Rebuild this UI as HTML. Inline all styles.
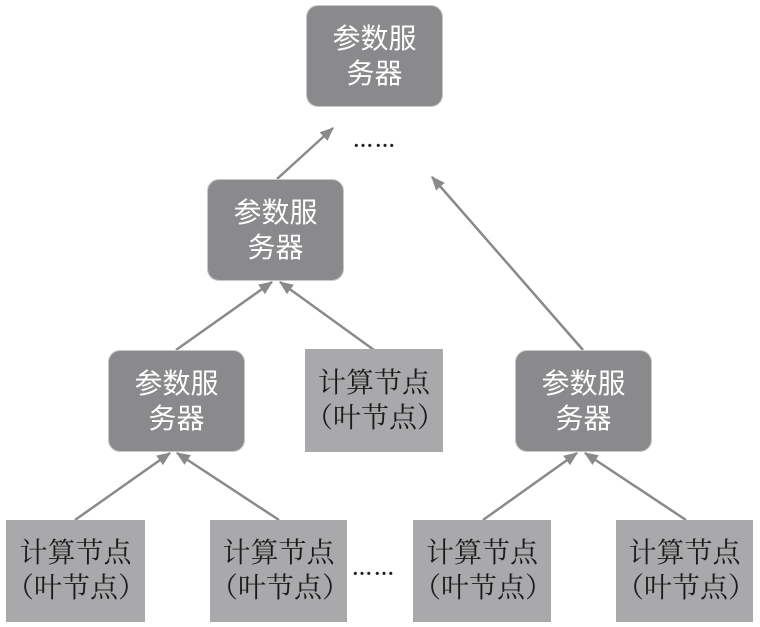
<!DOCTYPE html>
<html><head><meta charset="utf-8"><style>
body{margin:0;width:760px;height:627px;background:#fff;position:relative;overflow:hidden;font-family:"Liberation Serif","Noto Serif CJK SC","Noto Sans CJK SC",serif}
.b{position:absolute;display:flex;align-items:center;justify-content:center;text-align:center;font-size:28px;line-height:35px}
.ps{background:#8a8a8d;color:#fff;border-radius:12px;border:1px solid #c8c8ca;box-sizing:border-box;font-family:"Liberation Sans","Noto Sans CJK SC",sans-serif}
.lf{background:#a9a9ac;color:#1a1a1a;box-sizing:border-box}
.d{position:absolute;font-size:20px;color:#222;letter-spacing:2px;font-weight:bold}
</style></head><body>
<svg width="760" height="627" style="position:absolute;left:0;top:0">
<defs>
<marker id="h" viewBox="0 0 12 10" markerWidth="14" markerHeight="12" refX="11" refY="5" orient="auto" markerUnits="userSpaceOnUse"><path d="M0,0 L12,5 L0,10 Z" fill="#8a8a8d"/></marker></defs>
<g stroke="#8a8a8d" stroke-width="2.5" fill="none" marker-end="url(#h)">
<line x1="277" y1="179" x2="333" y2="128"/>
<line x1="583" y1="350" x2="432" y2="177"/>
<line x1="176" y1="350" x2="272" y2="282"/>
<line x1="374" y1="350" x2="280" y2="282"/>
<line x1="75" y1="520" x2="170" y2="453"/>
<line x1="279" y1="520" x2="177" y2="453"/>
<line x1="483" y1="520" x2="577" y2="453"/>
<line x1="686" y1="520" x2="585" y2="453"/>
</g></svg>
<div class="b ps" style="left:306px;top:5px;width:137px;height:102px">参数服<br>务器</div>
<div class="b ps" style="left:207px;top:179px;width:137px;height:102px">参数服<br>务器</div>
<div class="b ps" style="left:108px;top:350px;width:137px;height:102px">参数服<br>务器</div>
<div class="b ps" style="left:515px;top:350px;width:137px;height:102px">参数服<br>务器</div>
<div class="b lf" style="left:305px;top:349px;width:138px;height:103px">计算节点<br>（叶节点）</div>
<div class="b lf" style="left:6px;top:520px;width:139px;height:102px">计算节点<br>（叶节点）</div>
<div class="b lf" style="left:210px;top:520px;width:137px;height:102px">计算节点<br>（叶节点）</div>
<div class="b lf" style="left:413px;top:520px;width:138px;height:102px">计算节点<br>（叶节点）</div>
<div class="b lf" style="left:616px;top:520px;width:137px;height:102px">计算节点<br>（叶节点）</div>
<div class="d" style="left:353px;top:130px">……</div>
<div class="d" style="left:352px;top:558px">……</div>
</body></html>
